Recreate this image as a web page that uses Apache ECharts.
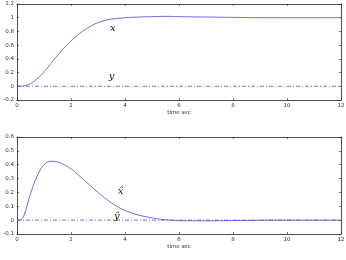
<!DOCTYPE html>
<html><head><meta charset="utf-8">
<script src="https://cdn.jsdelivr.net/npm/echarts@6/dist/echarts.min.js"></script>
<style>html,body{margin:0;padding:0;background:#fff}#c{width:346px;height:260px}</style>
</head><body><div id="c"></div>
<script>
const timeTop = [0,0.25,0.5,0.75,1,1.25,1.5,1.75,2,2.25,2.5,2.75,3,3.25,3.5,3.75,4,4.5,5,5.5,6,7,8,9,10,11,12];
const xPos    = [0,0.005,0.04,0.11,0.21,0.33,0.45,0.56,0.66,0.75,0.82,0.88,0.93,0.96,0.98,0.99,1.0,1.01,1.015,1.02,1.015,1.01,1.005,1.0,1.0,1.0,1.0];
const timeBot = [0,0.1,0.25,0.5,0.75,1,1.25,1.5,1.75,2,2.25,2.5,2.75,3,3.25,3.5,3.75,4,4.5,5,5.5,6,7,8,9,10,11,12];
const xVel    = [0,0,0.03,0.19,0.32,0.40,0.425,0.42,0.40,0.37,0.33,0.287,0.243,0.20,0.16,0.124,0.094,0.07,0.037,0.016,0.003,-0.004,-0.005,-0.003,-0.001,0,0,0];
const timeFlat = [0,12];
const yPos = [0,0];
const yVel = [0,0];
const xTicks = [0,2,4,6,8,10,12];
const topYRange = [-0.2,1.2,0.2];
const botYRange = [-0.1,0.6,0.1];
const xLabel = 'time sec';
const topYName = 'x-y position (m)';
const botYName = 'x-y velocity (m/s)';

const pairs = (t,v)=>t.map((x,i)=>[x,v[i]]);
const lineColor = '#4a4ad0';
const axisCol = '#222';
const labelStyle = {fontSize:5.5, color:'#333', fontFamily:'DejaVu Sans', margin:3};

function xAxes(gi){
  return [
    {type:'value', gridIndex:gi, min:0, max:12, interval:2, position:'bottom',
     name:xLabel, nameLocation:'middle', nameGap:9, nameTextStyle:{fontSize:5.5,color:'#333',fontFamily:'DejaVu Sans'},
     axisLine:{onZero:false,lineStyle:{color:axisCol,width:0.8}},
     axisTick:{inside:true,length:2,lineStyle:{color:axisCol,width:0.6}},
     axisLabel:Object.assign({},labelStyle,{showMinLabel:true,showMaxLabel:true}), splitLine:{show:false}},
    {type:'value', gridIndex:gi, min:0, max:12, interval:2, position:'top',
     axisLine:{onZero:false,lineStyle:{color:axisCol,width:0.8}},
     axisTick:{inside:true,length:2,lineStyle:{color:axisCol,width:0.6}},
     axisLabel:{show:false}, splitLine:{show:false}}
  ];
}
function yAxes(gi,r,name){
  return [
    {type:'value', gridIndex:gi, min:r[0], max:r[1], interval:r[2], position:'left',
     name:name, nameLocation:'middle', nameGap:12, nameRotate:90,
     nameTextStyle:{fontSize:4,color:'#bbb',fontFamily:'DejaVu Sans'},
     axisLine:{onZero:false,lineStyle:{color:axisCol,width:0.8}},
     axisTick:{inside:true,length:2,lineStyle:{color:axisCol,width:0.6}},
     axisLabel:Object.assign({},labelStyle,{showMinLabel:true,showMaxLabel:true,formatter:v=>String(+(+v).toFixed(1))}), splitLine:{show:false}},
    {type:'value', gridIndex:gi, min:r[0], max:r[1], interval:r[2], position:'right',
     axisLine:{onZero:false,lineStyle:{color:axisCol,width:0.8}},
     axisTick:{inside:true,length:2,lineStyle:{color:axisCol,width:0.6}},
     axisLabel:{show:false}, splitLine:{show:false}}
  ];
}
function tag(coord,text){
  return {symbol:'circle',symbolSize:0.01,data:[{coord:coord,value:text}],
    label:{show:true,formatter:text,position:'inside',fontSize:10,fontStyle:'italic',
      fontFamily:'DejaVu Serif',color:'#111'}};
}
const chart = echarts.init(document.getElementById('c'),null,{renderer:'canvas'});
chart.setOption({
  animation:false,
  grid:[{left:17,right:5,top:4,height:96,containLabel:false,outerBoundsMode:'none'},
        {left:17,right:5,top:137,height:97,containLabel:false,outerBoundsMode:'none'}],
  xAxis:[...xAxes(0),...xAxes(1)],
  yAxis:[...yAxes(0,topYRange,topYName),...yAxes(1,botYRange,botYName)],
  series:[
    {type:'line',xAxisIndex:0,yAxisIndex:0,data:pairs(timeTop,xPos),smooth:0.4,showSymbol:false,
     lineStyle:{color:lineColor,width:0.8},markPoint:tag([3.55,0.84],'x')},
    {type:'line',xAxisIndex:0,yAxisIndex:0,data:pairs(timeFlat,yPos),showSymbol:false,
     lineStyle:{color:lineColor,width:0.8,type:[4,2,1,2]},markPoint:tag([3.5,0.14],'y')},
    {type:'line',xAxisIndex:2,yAxisIndex:2,data:pairs(timeBot,xVel),smooth:0.4,showSymbol:false,
     lineStyle:{color:lineColor,width:0.8},markPoint:tag([3.84,0.21],'x\u0302')},
    {type:'line',xAxisIndex:2,yAxisIndex:2,data:pairs(timeFlat,yVel),showSymbol:false,
     lineStyle:{color:lineColor,width:0.8,type:[4,2,1,2]},markPoint:tag([3.7,0.025],'y\u0302')}
  ]
});
</script></body></html>
